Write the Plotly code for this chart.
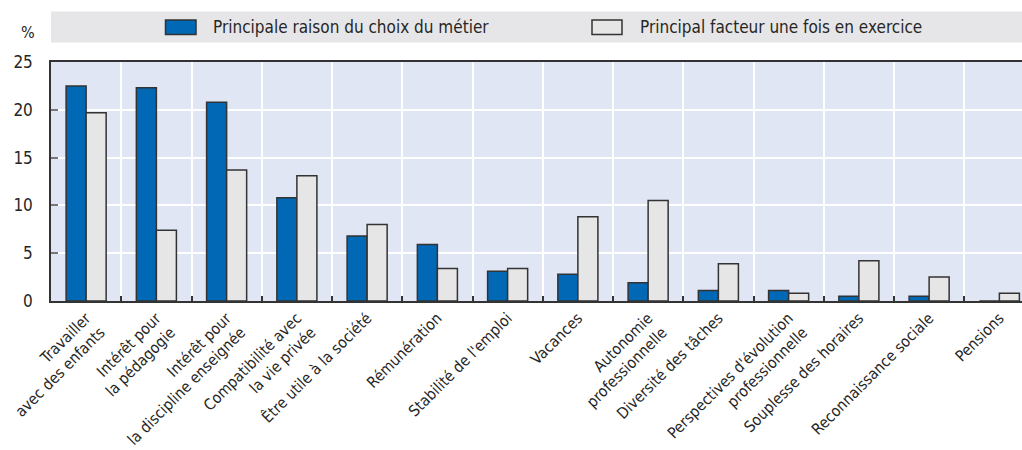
import plotly.graph_objects as go

categories = [
    "Travailler<br>avec des enfants",
    "Intérêt pour<br>la pédagogie",
    "Intérêt pour<br>la discipline enseignée",
    "Compatibilité avec<br>la vie privée",
    "Être utile à la société",
    "Rémunération",
    "Stabilité de l'emploi",
    "Vacances",
    "Autonomie<br>professionnelle",
    "Diversité des tâches",
    "Perspectives d'évolution<br>professionnelle",
    "Souplesse des horaires",
    "Reconnaissance sociale",
    "Pensions",
]
choix_metier = [22.5, 22.3, 20.8, 10.8, 6.8, 5.9, 3.1, 2.8, 1.9, 1.1, 1.1, 0.5, 0.5, 0.0]
en_exercice = [19.7, 7.4, 13.7, 13.1, 8.0, 3.4, 3.4, 8.8, 10.5, 3.9, 0.8, 4.2, 2.5, 0.8]
series_names = ["Principale raison du choix du métier", "Principal facteur une fois en exercice"]
y_ticks = [0, 5, 10, 15, 20, 25]

FONT = "DejaVu Sans Condensed, Liberation Sans Narrow, Roboto, sans-serif"
BLUE = "#0068b5"
LIGHT = "#e6e6e6"
EDGE = "#333333"
TEXT = "#262626"

W, H = 1022, 450
L, T, B = 51, 62, 149
PW, PH = W - L, H - T - B


def px(x):
    return (x - L) / PW


def py(y):
    return (H - B - y) / PH


fig = go.Figure()
fig.add_trace(go.Bar(x=categories, y=choix_metier, name=series_names[0],
                     marker=dict(color=BLUE, line=dict(color=EDGE, width=1.5))))
fig.add_trace(go.Bar(x=categories, y=en_exercice, name=series_names[1],
                     marker=dict(color=LIGHT, line=dict(color=EDGE, width=1.5))))

# legend band with swatches
shapes = [
    dict(type="rect", xref="paper", yref="paper", x0=0, x1=1, y0=py(42.5), y1=py(11.5),
         fillcolor="#e6e6e8", line=dict(width=0), layer="below"),
    dict(type="rect", xref="paper", yref="paper", x0=px(165.5), x1=px(196), y0=py(34.5), y1=py(20),
         fillcolor=BLUE, line=dict(color=EDGE, width=1.5)),
    dict(type="rect", xref="paper", yref="paper", x0=px(592), x1=px(622), y0=py(34.5), y1=py(20),
         fillcolor=LIGHT, line=dict(color=EDGE, width=1.5)),
]
annotations = [
    dict(text=series_names[0], xref="paper", yref="paper", x=px(211), y=py(27.5),
         xanchor="left", yanchor="middle", showarrow=False, font=dict(size=17, color=TEXT, family=FONT)),
    dict(text=series_names[1], xref="paper", yref="paper", x=px(638), y=py(27.5),
         xanchor="left", yanchor="middle", showarrow=False, font=dict(size=17, color=TEXT, family=FONT)),
    dict(text="%", xref="paper", yref="paper", x=px(28), y=py(32),
         xanchor="center", yanchor="middle", showarrow=False, font=dict(size=16, color=TEXT, family=FONT)),
]

fig.update_layout(
    width=W, height=H,
    margin=dict(l=L, r=0, t=T, b=B, pad=0, autoexpand=False),
    paper_bgcolor="white",
    plot_bgcolor="#e0e6f4",
    barmode="group",
    bargap=0.43,
    bargroupgap=0,
    showlegend=False,
    font=dict(family=FONT, color=TEXT, size=16),
    shapes=shapes,
    annotations=annotations,
)
fig.update_xaxes(
    type="category",
    automargin=False,
    range=[-0.5, -0.5 + PW / 70.25],
    tickson="boundaries",
    ticks="inside", ticklen=5, tickcolor=EDGE, tickwidth=1.5,
    showgrid=True, gridcolor="white", gridwidth=1.5,
    showline=True, linecolor=EDGE, linewidth=2, mirror=True,
    tickangle=-45,
    tickfont=dict(size=15.5, color=TEXT, family=FONT),
)
fig.update_yaxes(
    automargin=False,
    range=[0, 25],
    tickvals=y_ticks,
    ticks="inside", ticklen=7, tickcolor="#777777", tickwidth=1.5,
    showgrid=True, gridcolor="white", gridwidth=2,
    showline=True, linecolor=EDGE, linewidth=1.5,
    zeroline=False,
    tickfont=dict(size=17, color=TEXT, family=FONT),
    ticklabelstandoff=13,
)

fig.write_html("out.html")
